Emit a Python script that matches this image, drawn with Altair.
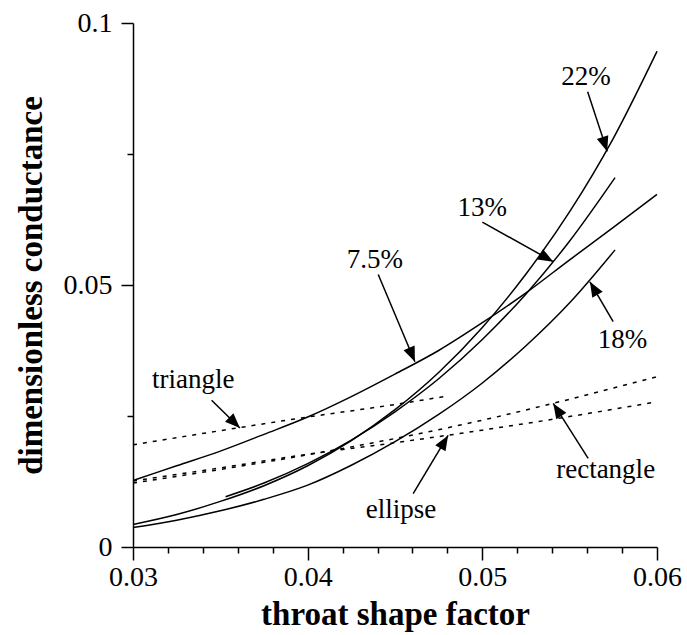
import math
import altair as alt
import pandas as pd

# Dimensionless conductance vs. throat shape factor
# Solid curves: simulated throats with different roughness amplitudes
x_grid = [0.030, 0.0325, 0.035, 0.0375, 0.040, 0.0425, 0.045, 0.0475, 0.050, 0.0525, 0.055, 0.0575, 0.060]
g_7_5 = [0.0127, 0.0155, 0.0183, 0.0215, 0.0248, 0.0287, 0.0330, 0.0375, 0.0428, 0.0485, 0.0548, 0.0610, 0.0673]
g_22 = [0.0043, 0.0062, 0.0087, 0.0117, 0.0155, 0.0203, 0.0262, 0.0333, 0.0419, 0.0521, 0.0640, 0.0780, 0.0946]

x_18 = [0.030, 0.0325, 0.035, 0.0375, 0.040, 0.0425, 0.045, 0.0475, 0.050, 0.0525, 0.055, 0.0576]
g_18 = [0.0037, 0.0051, 0.0069, 0.0091, 0.0118, 0.0156, 0.0201, 0.0253, 0.0313, 0.0384, 0.0466, 0.0567]

x_13 = [0.0353, 0.0375, 0.040, 0.0425, 0.045, 0.0475, 0.050, 0.0525, 0.055, 0.0576]
g_13 = [0.0096, 0.0122, 0.0159, 0.0204, 0.0258, 0.0321, 0.0396, 0.0483, 0.0584, 0.0705]

# Dotted curves: regular cross-section shapes
x_tri = [0.030, 0.035, 0.040, 0.045, 0.048]
g_tri = [0.0195, 0.0222, 0.0248, 0.0272, 0.0288]
x_rect = [0.030, 0.035, 0.040, 0.045, 0.050, 0.055, 0.060]
g_rect = [0.0122, 0.0148, 0.0176, 0.0207, 0.0242, 0.0282, 0.0325]
x_ell = [0.030, 0.035, 0.040, 0.045, 0.050, 0.055, 0.0598]
g_ell = [0.0126, 0.0151, 0.0177, 0.0199, 0.0223, 0.0249, 0.0276]

# Curve labels and their arrows (label anchor, arrow tail, arrow tip)
ann_text = ["22%", "13%", "7.5%", "18%", "triangle", "ellipse", "rectangle"]
ann_x = [0.05593, 0.04999, 0.04385, 0.05802, 0.03345, 0.04534, 0.05706]
ann_y = [0.0882, 0.0631, 0.0532, 0.0379, 0.03026, 0.00554, 0.01326]
tail_x = [0.05603, 0.05000, 0.04404, 0.05749, 0.03450, 0.04604, 0.05606]
tail_y = [0.0869, 0.0620, 0.0520, 0.0430, 0.0280, 0.0102, 0.0169]
tip_x = [0.05715, 0.05406, 0.04614, 0.05616, 0.03612, 0.04804, 0.05406]
tip_y = [0.0755, 0.05445, 0.03535, 0.0506, 0.0227, 0.0213, 0.0274]

X_DOM = [0.03, 0.06]
Y_DOM = [0.0, 0.1]
W, H = 524, 524
SERIF = "Liberation Serif, Times New Roman, serif"


def frame(name, xs, ys):
    return pd.DataFrame({"series": name, "q": xs, "g": ys})


solid = pd.concat([
    frame("7.5%", x_grid, g_7_5),
    frame("22%", x_grid, g_22),
    frame("18%", x_18, g_18),
    frame("13%", x_13, g_13),
], ignore_index=True)

dotted = pd.concat([
    frame("triangle", x_tri, g_tri),
    frame("rectangle", x_rect, g_rect),
    frame("ellipse", x_ell, g_ell),
], ignore_index=True)

# arrowhead rotation in screen space
kx = W / (X_DOM[1] - X_DOM[0])
ky = H / (Y_DOM[1] - Y_DOM[0])
angles = []
for x0, y0, x1, y1 in zip(tail_x, tail_y, tip_x, tip_y):
    dx = (x1 - x0) * kx
    dy = -(y1 - y0) * ky
    angles.append(math.degrees(math.atan2(dx, -dy)) % 360)

ann = pd.DataFrame({
    "label": ann_text, "lx": ann_x, "ly": ann_y,
    "x0": tail_x, "y0": tail_y, "x1": tip_x, "y1": tip_y, "angle": angles,
})

xs = alt.Scale(domain=X_DOM, nice=False, zero=False)
ys = alt.Scale(domain=Y_DOM, nice=False, zero=False)

x_major = alt.Axis(
    orient="bottom", values=[0.03, 0.04, 0.05, 0.06], format=".2f",
    tickSize=13, labelPadding=3, labelFlush=False, title="throat shape factor",
    titleX=W / 2, titleY=77, titleBaseline="alphabetic",
)
y_major = alt.Axis(
    orient="left", values=[0.0, 0.05, 0.1], format="~g",
    tickSize=12, labelPadding=9, labelFlush=False, title="dimensionless conductance",
    titleX=-91.5, titleY=H / 2, titleBaseline="alphabetic", titleAngle=270,
)
x_minor = alt.Axis(
    orient="bottom", values=[0.032, 0.034, 0.036, 0.038, 0.042, 0.044, 0.046, 0.048,
                             0.052, 0.054, 0.056, 0.058],
    tickSize=6, labels=False, domain=False, title=None,
)
y_minor = alt.Axis(
    orient="left", values=[0.025, 0.075], tickSize=6, labels=False, domain=False, title=None,
)

solid_lines = alt.Chart(solid).mark_line(
    color="black", strokeWidth=1.5, interpolate="monotone"
).encode(
    x=alt.X("q:Q", scale=xs, axis=x_major),
    y=alt.Y("g:Q", scale=ys, axis=y_major),
    detail="series:N",
)

dotted_lines = alt.Chart(dotted).mark_line(
    color="black", strokeWidth=1.5, strokeDash=[4, 6], interpolate="monotone"
).encode(
    x=alt.X("q:Q", scale=xs, axis=x_minor),
    y=alt.Y("g:Q", scale=ys, axis=y_minor),
    detail="series:N",
)

arrows = alt.Chart(ann).mark_rule(color="black", strokeWidth=1.5).encode(
    x=alt.X("x0:Q", scale=xs, axis=None),
    y=alt.Y("y0:Q", scale=ys, axis=None),
    x2="x1:Q",
    y2="y1:Q",
)

heads = alt.Chart(ann).mark_point(
    shape="M0,0L-0.8,2L0.8,2Z", size=225, filled=True,
    color="black", opacity=1, strokeWidth=0,
).encode(
    x=alt.X("x1:Q", scale=xs, axis=None),
    y=alt.Y("y1:Q", scale=ys, axis=None),
    angle=alt.Angle("angle:Q", scale=None),
)

labels = alt.Chart(ann).mark_text(
    font=SERIF, fontSize=27, align="center", baseline="alphabetic", color="black"
).encode(
    x=alt.X("lx:Q", scale=xs, axis=None),
    y=alt.Y("ly:Q", scale=ys, axis=None),
    text="label:N",
)

chart = alt.layer(
    solid_lines, dotted_lines, arrows, heads, labels
).resolve_axis(
    x="independent", y="independent"
).properties(
    width=W, height=H,
    padding={"left": 133, "top": 23, "right": 30, "bottom": 88},
    autosize=alt.AutoSizeParams(type="none"),
).configure_view(
    stroke=None
).configure_axis(
    grid=False,
    domainColor="black", domainWidth=1.5,
    tickColor="black", tickWidth=1.5,
    labelColor="black", labelFont=SERIF, labelFontSize=28,
    titleColor="black", titleFont=SERIF, titleFontSize=33, titleFontWeight="bold",
)

chart.save("out.html", embed_options={"renderer": "svg", "actions": False})
